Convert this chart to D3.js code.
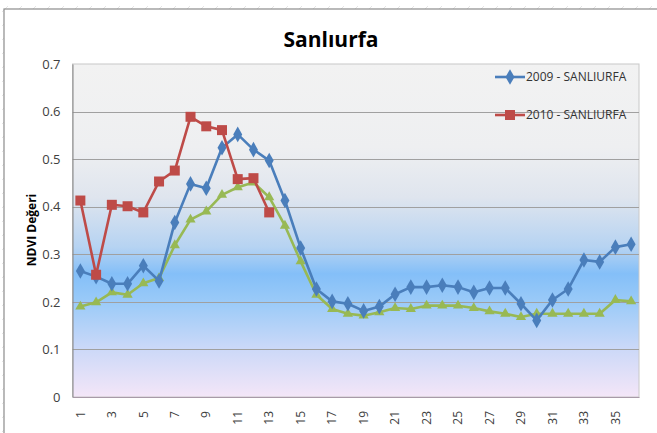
<!DOCTYPE html>
<html>
<head>
<meta charset="utf-8">
<script src="https://cdn.jsdelivr.net/npm/d3@7"></script>
<style>
  body { margin: 0; background: #fff; }
  svg { display: block; }
  text { font-family: 'Open Sans', 'DejaVu Sans', sans-serif; }
</style>
</head>
<body>
<div id="chart"></div>
<script>
'use strict';

var periods = d3.range(1, 37);
var xTickLabels = periods.filter(function(d) { return d % 2 === 1; });
var yTicks = [0, 0.1, 0.2, 0.3, 0.4, 0.5, 0.6, 0.7];

var seriesNames = ['2009 - SANLIURFA', '2010 - SANLIURFA', ''];

var ndvi2009 = [0.265, 0.253, 0.238, 0.238, 0.276, 0.244, 0.367, 0.448, 0.439, 0.524,
    0.552, 0.520, 0.497, 0.413, 0.313, 0.227, 0.201, 0.196, 0.181, 0.190,
    0.216, 0.231, 0.231, 0.235, 0.231, 0.220, 0.229, 0.229, 0.196, 0.161,
    0.204, 0.227, 0.288, 0.284, 0.315, 0.321];

var ndvi2010 = [0.413, 0.257, 0.404, 0.401, 0.388, 0.453, 0.476, 0.589, 0.569, 0.561,
    0.458, 0.460, 0.388];

var ndviThird = [0.190, 0.199, 0.220, 0.215, 0.239, 0.250, 0.319, 0.373, 0.390, 0.425,
    0.441, 0.451, 0.420, 0.360, 0.285, 0.215, 0.185, 0.175, 0.171, 0.178,
    0.187, 0.185, 0.192, 0.192, 0.192, 0.187, 0.180, 0.175, 0.168, 0.175,
    0.175, 0.175, 0.175, 0.175, 0.204, 0.201];

var width = 657;
var height = 433;
var plot = { left: 72.5, right: 639, top: 64, bottom: 397 };

var svg = d3.select('#chart')
    .append('svg')
    .attr('width', width)
    .attr('height', height);

var defs = svg.append('defs');

// faint hatch outside the chart frame
var hatch = defs.append('pattern')
    .attr('id', 'hatch')
    .attr('width', 14)
    .attr('height', 14)
    .attr('patternUnits', 'userSpaceOnUse');
hatch.append('path')
    .attr('d', 'M2,12 L8,6')
    .attr('stroke', '#e4e4e4')
    .attr('stroke-width', 1);

svg.append('rect')
    .attr('width', width)
    .attr('height', height)
    .attr('fill', 'url(#hatch)');

svg.append('rect')
    .attr('x', 4)
    .attr('y', 9)
    .attr('width', width + 10)
    .attr('height', height + 10)
    .attr('fill', '#fff')
    .attr('stroke', '#8c8c8c')
    .attr('stroke-width', 1.2);

var grad = defs.append('linearGradient')
    .attr('id', 'bg')
    .attr('x1', 0).attr('y1', 0)
    .attr('x2', 0).attr('y2', 1);
[
    [0, '#f2f2f2'],
    [0.25, '#eeeff1'],
    [0.4, '#dfe5ee'],
    [0.55, '#b6d3f2'],
    [0.63, '#84bff8'],
    [0.72, '#9ccbf8'],
    [0.86, '#cdd9f8'],
    [1, '#f4e6f8']
].forEach(function(s) {
    grad.append('stop').attr('offset', s[0]).attr('stop-color', s[1]);
});

var x = d3.scaleBand()
    .domain(periods)
    .range([plot.left, plot.right]);

var y = d3.scaleLinear()
    .domain([0, 0.7])
    .range([plot.bottom, plot.top]);

function cx(d) { return x(d) + x.bandwidth() / 2; }

svg.append('rect')
    .attr('x', plot.left)
    .attr('y', plot.top)
    .attr('width', plot.right - plot.left)
    .attr('height', plot.bottom - plot.top)
    .attr('fill', 'url(#bg)')
    .attr('stroke', '#c8c8c8')
    .attr('stroke-width', 1);

// gridlines
svg.append('g')
    .selectAll('line')
    .data(yTicks.slice(1, -1))
    .enter()
    .append('line')
    .attr('x1', plot.left)
    .attr('x2', plot.right)
    .attr('y1', function(d) { return Math.round(y(d)) + 0.5; })
    .attr('y2', function(d) { return Math.round(y(d)) + 0.5; })
    .attr('stroke', '#a0a0a0')
    .attr('stroke-width', 1);

// y axis
var yAxis = svg.append('g')
    .attr('transform', 'translate(' + plot.left + ',0)')
    .call(d3.axisLeft(y).tickValues(yTicks).tickFormat(d3.format('')).tickSize(0).tickPadding(12));
yAxis.select('.domain').attr('stroke', '#868686');
yAxis.selectAll('text')
    .attr('font-size', 13)
    .attr('fill', '#404040');

// x axis
var xAxis = svg.append('g')
    .attr('transform', 'translate(0,' + plot.bottom + ')')
    .call(d3.axisBottom(x).tickValues(xTickLabels).tickSize(0));
xAxis.select('.domain').attr('stroke', '#a89aa8');
xAxis.selectAll('text')
    .attr('font-size', 12)
    .attr('fill', '#404040')
    .attr('text-anchor', 'end')
    .attr('dy', '0.35em')
    .attr('transform', 'translate(0,14) rotate(-90)')
    .attr('x', 0)
    .attr('y', 0);

// title + axis title
svg.append('text')
    .attr('x', 331)
    .attr('y', 47)
    .attr('text-anchor', 'middle')
    .attr('font-size', 21)
    .attr('font-weight', 'bold')
    .attr('fill', '#000')
    .text('Sanlıurfa');

svg.append('text')
    .attr('transform', 'translate(36,230) rotate(-90)')
    .attr('text-anchor', 'middle')
    .attr('font-size', 12)
    .attr('font-weight', 'bold')
    .attr('fill', '#000')
    .text('NDVI Değeri');

var series = [
    { name: seriesNames[0], values: ndvi2009, color: '#4a7ebb', marker: d3.symbolDiamond, size: 70 },
    { name: seriesNames[1], values: ndvi2010, color: '#be4b48', marker: d3.symbolSquare, size: 100 },
    { name: seriesNames[2], values: ndviThird, color: '#98b954', marker: d3.symbolTriangle, size: 45 }
];

var line = d3.line()
    .x(function(d, i) { return cx(periods[i]); })
    .y(function(d) { return y(d); });

// draw third series first so blue/red sit on top
[series[2], series[0], series[1]].forEach(function(s) {
    var g = svg.append('g');
    g.append('path')
        .attr('d', line(s.values))
        .attr('fill', 'none')
        .attr('stroke', s.color)
        .attr('stroke-width', 2.6)
        .attr('stroke-linejoin', 'round');
    g.selectAll('path.m')
        .data(s.values)
        .enter()
        .append('path')
        .attr('class', 'm')
        .attr('d', d3.symbol().type(s.marker).size(s.size))
        .attr('transform', function(d, i) {
            return 'translate(' + cx(periods[i]) + ',' + y(d) + ')';
        })
        .attr('fill', s.color);
});

// legend (only the two named series)
var legend = svg.selectAll('.legend')
    .data(series.slice(0, 2))
    .enter()
    .append('g')
    .attr('class', 'legend')
    .attr('transform', function(d, i) {
        return 'translate(495,' + (77 + i * 38) + ')';
    });

legend.append('line')
    .attr('x1', 0)
    .attr('x2', 30)
    .attr('stroke', function(d) { return d.color; })
    .attr('stroke-width', 2.6);

legend.append('path')
    .attr('d', function(d) { return d3.symbol().type(d.marker).size(d.size)(); })
    .attr('transform', 'translate(15,0)')
    .attr('fill', function(d) { return d.color; });

legend.append('text')
    .attr('x', 31)
    .attr('dy', '0.35em')
    .attr('font-size', 12)
    .attr('fill', '#333')
    .text(function(d) { return d.name; });
</script>
</body>
</html>
